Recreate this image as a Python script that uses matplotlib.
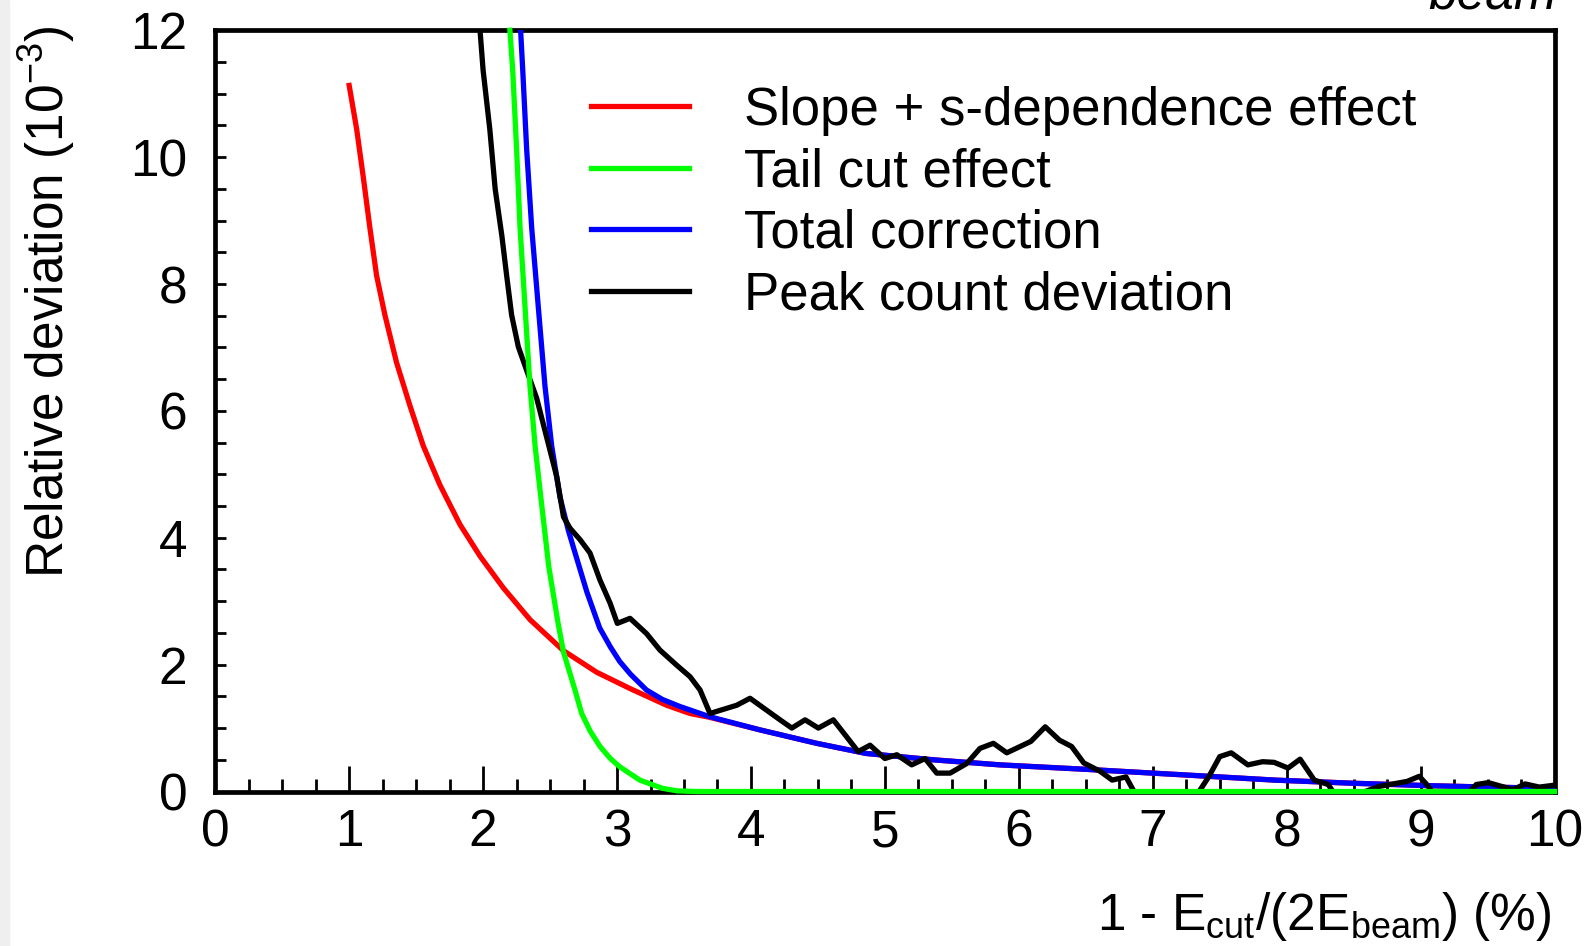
import matplotlib
matplotlib.use("Agg")
import matplotlib.pyplot as plt
from matplotlib.patches import Rectangle
from matplotlib.ticker import MultipleLocator

plt.rcParams['font.family'] = 'Liberation Sans'
plt.rcParams['mathtext.fontset'] = 'custom'
plt.rcParams['mathtext.rm'] = 'Liberation Sans'
plt.rcParams['mathtext.it'] = 'Liberation Sans:italic'

# (x in %, y in 10^-3)
slope_x = [1.0, 1.056, 1.105, 1.155, 1.205, 1.267, 1.354, 1.454, 1.553, 1.678, 1.827, 1.977,
           2.151, 2.35, 2.60, 2.848, 3.10, 3.37, 3.545, 3.69, 4.07, 4.49, 4.86, 5.36, 5.86,
           6.5, 7.0, 7.5, 7.91, 8.5, 9.1, 9.5, 10.0]
slope_y = [11.13, 10.44, 9.69, 8.88, 8.13, 7.51, 6.76, 6.08, 5.45, 4.83, 4.21, 3.71,
           3.21, 2.71, 2.22, 1.88, 1.62, 1.36, 1.23, 1.17, 0.97, 0.76, 0.60, 0.50, 0.42,
           0.35, 0.29, 0.23, 0.18, 0.13, 0.09, 0.07, 0.05]

tail_x = [2.20, 2.221, 2.25, 2.276, 2.313, 2.35, 2.388, 2.425, 2.49, 2.56, 2.60, 2.686,
          2.736, 2.80, 2.873, 2.95, 3.02, 3.17, 3.34, 3.45, 3.6, 10.0]
tail_y = [12.0, 11.37, 10.13, 8.88, 7.64, 6.39, 5.45, 4.75, 3.55, 2.65, 2.20, 1.60,
          1.23, 0.95, 0.71, 0.52, 0.39, 0.18, 0.05, 0.01, 0.0, 0.0]

total_x = [2.28, 2.296, 2.325, 2.363, 2.412, 2.462, 2.512, 2.574, 2.636, 2.674, 2.774,
           2.87, 2.95, 3.02, 3.1, 3.22, 3.34, 3.47, 3.69, 4.07, 4.49, 4.86, 5.36, 5.86,
           6.5, 7.0, 7.5, 7.91, 8.5, 9.1, 9.5, 10.0]
total_y = [12.0, 11.37, 10.13, 8.88, 7.64, 6.39, 5.45, 4.64, 4.12, 3.85, 3.15,
           2.58, 2.28, 2.05, 1.85, 1.60, 1.45, 1.34, 1.18, 0.97, 0.76, 0.60, 0.50, 0.42,
           0.35, 0.29, 0.23, 0.18, 0.13, 0.09, 0.07, 0.05]

peak_x = [1.977, 2.0, 2.05, 2.09, 2.14, 2.176, 2.213, 2.263, 2.325, 2.40, 2.475, 2.55,
          2.60, 2.649, 2.724, 2.798, 2.873, 2.948, 3.002, 3.097, 3.22, 3.32, 3.446, 3.545,
          3.62, 3.694, 3.77, 3.894, 3.993, 4.118, 4.217, 4.305, 4.404, 4.503, 4.615, 4.715,
          4.80, 4.889, 5.0, 5.089, 5.20, 5.30, 5.387, 5.487, 5.61, 5.71, 5.81, 5.91, 6.09,
          6.197, 6.303, 6.394, 6.485, 6.606, 6.697, 6.80, 6.86, 6.95, 7.25, 7.346, 7.42,
          7.50, 7.586, 7.71, 7.82, 7.906, 8.01, 8.10, 8.206, 8.31, 8.36, 8.47, 8.586, 8.69,
          8.90, 8.99, 9.05, 9.10, 9.25, 9.37, 9.415, 9.505, 9.69, 9.78, 9.886, 10.0]
peak_y = [12.0, 11.37, 10.44, 9.50, 8.76, 8.13, 7.51, 7.01, 6.64, 6.20, 5.58, 4.96,
          4.33, 4.15, 3.97, 3.76, 3.33, 2.97, 2.65, 2.73, 2.49, 2.23, 1.99, 1.81,
          1.60, 1.23, 1.28, 1.36, 1.47, 1.28, 1.13, 1.00, 1.13, 1.00, 1.13, 0.86,
          0.63, 0.73, 0.52, 0.58, 0.42, 0.52, 0.29, 0.29, 0.44, 0.68, 0.76, 0.61, 0.79,
          1.02, 0.81, 0.71, 0.45, 0.32, 0.18, 0.23, 0.0, -0.3, -0.3, 0.0, 0.24,
          0.55, 0.61, 0.42, 0.47, 0.46, 0.37, 0.51, 0.18, 0.11, -0.05, -0.2, 0.0, 0.08,
          0.16, 0.24, 0.1, -0.05, -0.2, 0.0, 0.11, 0.14, 0.03, 0.12, 0.07, 0.1]

labels = ["Slope + s-dependence effect", "Tail cut effect",
          "Total correction", "Peak count deviation"]

fig = plt.figure(figsize=(15.85, 9.46), dpi=100)
fig.patches.append(Rectangle((0, 0), 9 / 1585, 1, transform=fig.transFigure,
                             color='#efefef', zorder=0))
ax = fig.add_axes([0.1358, 0.1633, 0.845, 0.8047])

lw = 3.8
ax.plot(slope_x, slope_y, color='#ff0000', lw=lw, label=labels[0], zorder=2)
ax.plot(tail_x, tail_y, color='#00ff00', lw=lw, label=labels[1], zorder=5, clip_on=False)
ax.plot(total_x, total_y, color='#0000ff', lw=lw, label=labels[2], zorder=3)
ax.plot(peak_x, peak_y, color='black', lw=lw, label=labels[3], zorder=4)

ax.set_xlim(0, 10)
ax.set_ylim(0, 12)
ax.xaxis.set_major_locator(MultipleLocator(1))
ax.xaxis.set_minor_locator(MultipleLocator(0.25))
ax.yaxis.set_major_locator(MultipleLocator(2))
ax.yaxis.set_minor_locator(MultipleLocator(0.5))
for s in ax.spines.values():
    s.set_linewidth(3.4)
ax.tick_params(axis='x', which='major', direction='in', length=19, width=2.0,
               labelsize=37, pad=12, top=False)
ax.tick_params(axis='x', which='minor', direction='in', length=9.5, width=2.0, top=False)
ax.tick_params(axis='y', which='major', direction='in', length=8, width=2.0,
               labelsize=37, pad=20, right=False)
ax.tick_params(axis='y', which='minor', direction='in', length=8, width=2.0, right=False)

leg = ax.legend(loc='upper left', bbox_to_anchor=(0.265, 0.955), frameon=False,
                fontsize=38, handlelength=1.85, handletextpad=1.05, labelspacing=0.22,
                borderaxespad=0)

fig.text(0.0295, 0.9736, r"Relative deviation (10$^\mathregular{-3}$)", rotation=90,
         ha='center', va='top', fontsize=37)
fig.text(0.979, 0.017, r"1 - E$_\mathregular{cut}$/(2E$_\mathregular{beam}$) (%)",
         ha='right', va='baseline', fontsize=37)
fig.text(0.982, 0.9915, "beam", ha='right', va='baseline', fontsize=37, style='italic')

fig.savefig("out.png", dpi=100)
